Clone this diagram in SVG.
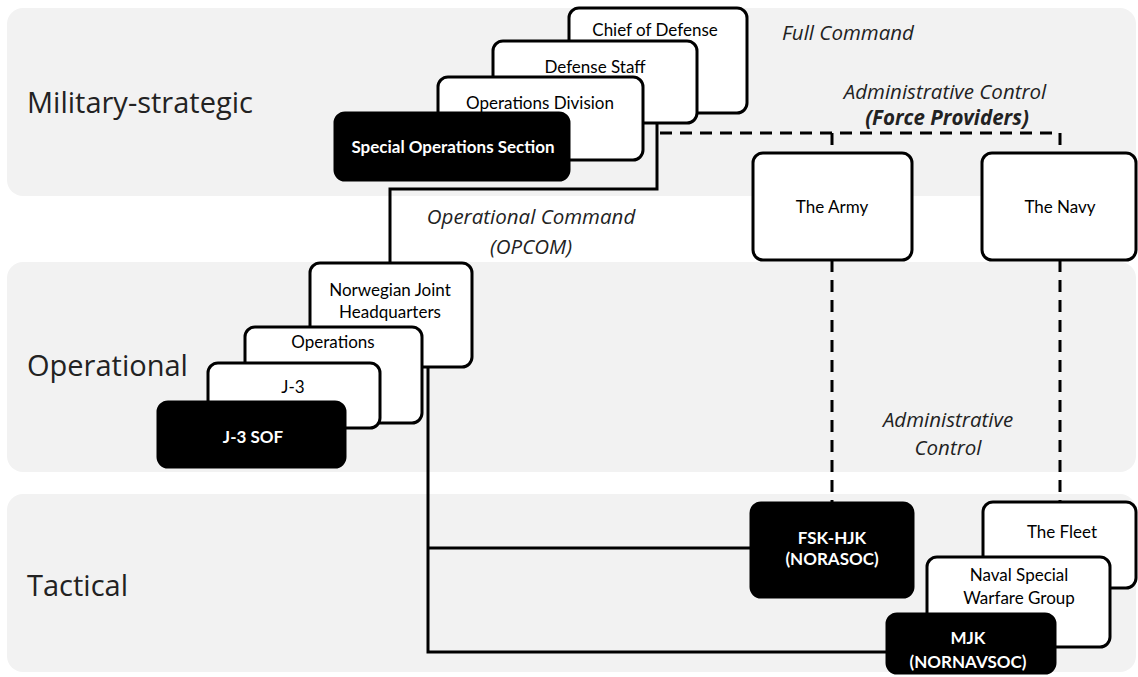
<svg xmlns="http://www.w3.org/2000/svg" width="1138" height="677" viewBox="0 0 1138 677">
<style>
.band{fill:#f2f2f2}
.lvl{font-family:"Open Sans","DejaVu Sans",sans-serif;font-size:29px;fill:#222}
.box{fill:#fff;stroke:#000;stroke-width:3}
.blk{fill:#000;stroke:#000;stroke-width:3}
.t{font-family:Lato,"Liberation Sans",sans-serif;font-size:17px;fill:#000;text-anchor:middle}
.tw{font-family:Lato,"Liberation Sans",sans-serif;font-size:17px;font-weight:bold;fill:#fff;text-anchor:middle}
.it{font-family:"Open Sans","DejaVu Sans",sans-serif;font-size:20.5px;font-style:italic;fill:#222;text-anchor:middle}
.ln{fill:none;stroke:#000;stroke-width:3}
.dash{fill:none;stroke:#000;stroke-width:3;stroke-dasharray:12 8}
</style>
<rect width="1138" height="677" fill="#fff"/>
<g id="bands">
<rect class="band" x="7" y="8" width="1129" height="188" rx="16"/>
<rect class="band" x="7" y="262" width="1129" height="210" rx="16"/>
<rect class="band" x="7" y="494" width="1129" height="178" rx="16"/>
<text class="lvl" x="27" y="113">Military-strategic</text>
<text class="lvl" x="27" y="376">Operational</text>
<text class="lvl" x="27" y="596">Tactical</text>
</g>
<g id="labels">
<text class="it" x="848" y="40">Full Command</text>
<text class="it" x="945" y="99">Administrative Control</text>
<text class="it" x="947" y="125" font-weight="bold">(Force Providers)</text>
<text class="it" x="531" y="224">Operational Command</text>
<text class="it" x="531" y="254">(OPCOM)</text>
<text class="it" x="948" y="427">Administrative</text>
<text class="it" x="948" y="455">Control</text>
</g>
<g id="connectors">
<polyline class="ln" points="657,123 657,189 390,189 390,263"/>
<polyline class="dash" points="660,133 1060,133 1060,153"/>
<line class="dash" x1="832" y1="133" x2="832" y2="153"/>
<line class="dash" x1="832" y1="260" x2="832" y2="503"/>
<line class="dash" x1="1060" y1="260" x2="1060" y2="502"/>
<polyline class="ln" points="428,367 428,652 887,652"/>
<line class="ln" x1="428" y1="548" x2="751" y2="548"/>
</g>
<g id="chief-of-defense">
<rect class="box" x="569" y="8" width="178" height="105" rx="10"/>
<text class="t" x="655" y="36">Chief of Defense</text>
</g>
<g id="defense-staff">
<rect class="box" x="493" y="41" width="204" height="82" rx="10"/>
<text class="t" x="595" y="73">Defense Staff</text>
</g>
<g id="operations-division">
<rect class="box" x="438" y="77" width="205" height="83" rx="10"/>
<text class="t" x="540" y="109">Operations Division</text>
</g>
<g id="special-operations-section">
<rect class="blk" x="335" y="113" width="234" height="67" rx="10"/>
<text class="tw" x="453" y="153" font-size="15">Special Operations Section</text>
</g>
<g id="the-army">
<rect class="box" x="753" y="153" width="159" height="107" rx="10"/>
<text class="t" x="832" y="213">The Army</text>
</g>
<g id="the-navy">
<rect class="box" x="982" y="153" width="154" height="107" rx="10"/>
<text class="t" x="1060" y="213">The Navy</text>
</g>
<g id="norwegian-joint-hq">
<rect class="box" x="310" y="263" width="162" height="104" rx="10"/>
<text class="t" x="390" y="296">Norwegian Joint</text>
<text class="t" x="390" y="318">Headquarters</text>
</g>
<g id="operations">
<rect class="box" x="245" y="327" width="177" height="96" rx="10"/>
<text class="t" x="333" y="348">Operations</text>
</g>
<g id="j3">
<rect class="box" x="208" y="363" width="172" height="65" rx="10"/>
<text class="t" x="293" y="393">J-3</text>
</g>
<g id="j3-sof">
<rect class="blk" x="158" y="402" width="187" height="65" rx="10"/>
<text class="tw" x="253" y="443">J-3 SOF</text>
</g>
<g id="fsk-hjk">
<rect class="blk" x="751" y="503" width="162" height="94" rx="10"/>
<text class="tw" x="832" y="544">FSK-HJK</text>
<text class="tw" x="832" y="565">(NORASOC)</text>
</g>
<g id="the-fleet">
<rect class="box" x="983" y="502" width="153" height="86" rx="10"/>
<text class="t" x="1062" y="538">The Fleet</text>
</g>
<g id="naval-special-warfare-group">
<rect class="box" x="927" y="557" width="183" height="90" rx="10"/>
<text class="t" x="1019" y="581">Naval Special</text>
<text class="t" x="1019" y="604">Warfare Group</text>
</g>
<g id="mjk">
<rect class="blk" x="887" y="614" width="168" height="59" rx="10"/>
<text class="tw" x="968" y="644">MJK</text>
<text class="tw" x="968" y="668">(NORNAVSOC)</text>
</g>
</svg>
